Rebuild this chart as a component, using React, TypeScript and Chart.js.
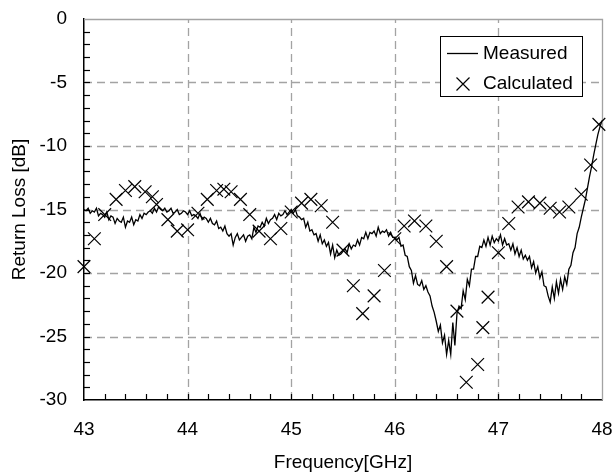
import React, { useEffect, useRef } from "react";
import { Chart, registerables } from "chart.js";

Chart.register(...registerables);

// ---- Axis ranges / ticks ----
const FREQ_MIN = 43;
const FREQ_MAX = 48;
const LOSS_MIN = -30;
const LOSS_MAX = 0;
const X_TICK_STEP = 1;
const Y_TICK_STEP = 5;
const X_MINOR_STEP = 0.2;
const Y_MINOR_STEP = 1;

// ---- Measured sweep (start/step of the frequency sweep) ----
const MEASURED_START = 43;
const MEASURED_STEP = 0.02;
const measuredLoss = [
  // 43.0
  -15.0, -15.1, -14.9, -15.3, -15.1, -15.2, -14.9, -15.5, -15.3, -15.4,
  // 43.2
  -15.6, -15.2, -15.8, -15.5, -15.6, -16.1, -15.7, -15.9, -16.0, -15.6,
  // 43.4
  -16.4, -15.9, -16.0, -15.6, -16.2, -15.8, -15.9, -15.4, -15.7, -15.3,
  // 43.6
  -15.4, -15.2, -15.1, -15.3, -14.9, -15.2, -14.8, -15.0, -15.1, -14.9,
  // 43.8
  -15.2, -15.1, -14.9, -15.3, -15.2, -15.0, -15.4, -15.3, -15.1, -15.2,
  // 44.0
  -15.4, -15.1, -15.5, -15.4, -15.5, -15.7, -15.3, -15.8, -15.6, -15.7,
  // 44.2
  -16.0, -15.7, -16.1, -16.2, -15.9, -16.5, -16.4, -16.7, -16.3, -16.9,
  // 44.4
  -17.1, -16.9, -17.8, -17.2, -16.9, -17.4, -17.2, -17.0, -17.5, -17.1,
  // 44.6
  -17.0, -17.3, -16.4, -16.8, -16.3, -16.4, -16.0, -16.3, -15.7, -16.1,
  // 44.8
  -15.8, -15.7, -15.4, -15.8, -15.3, -15.5, -15.4, -15.1, -15.4, -15.2,
  // 45.0
  -15.0, -15.3, -15.0, -15.5, -15.6, -15.8, -15.7, -16.4, -16.0, -16.7,
  // 45.2
  -16.6, -17.0, -16.9, -17.5, -17.0, -17.7, -17.4, -17.9, -17.6, -18.5,
  // 45.4
  -17.8, -18.8, -18.2, -18.6, -18.5, -18.3, -18.1, -18.4, -17.7, -18.1,
  // 45.6
  -17.8, -17.9, -17.4, -17.8, -17.2, -17.3, -16.8, -17.3, -16.8, -16.9,
  // 45.8
  -16.7, -17.1, -16.4, -16.9, -16.7, -16.8, -16.6, -17.1, -16.8, -17.2,
  // 46.0
  -17.2, -17.4, -17.2, -17.9, -17.8, -18.6, -18.7, -19.5, -19.8, -20.8,
  // 46.2
  -20.2, -20.9, -21.0, -20.6, -21.3, -21.0, -21.5, -21.8, -22.6, -23.1,
  // 46.4
  -23.8, -24.6, -24.1, -25.5, -24.9, -26.4, -25.3, -26.4, -23.9, -25.7,
  // 46.6
  -23.2, -22.6, -22.8, -21.4, -22.1, -20.5, -21.0, -19.7, -19.7, -18.7,
  // 46.8
  -18.7, -17.9, -18.0, -17.4, -17.9, -17.2, -17.8, -17.1, -17.6, -17.3,
  // 47.0
  -17.5, -17.0, -17.8, -17.3, -17.8, -17.7, -18.2, -17.7, -18.5, -18.0,
  // 47.2
  -18.7, -18.2, -18.9, -18.6, -19.0, -18.7, -19.6, -19.1, -20.0, -19.5,
  // 47.4
  -20.4, -19.9, -21.0, -21.1, -21.8, -22.3, -21.1, -22.0, -20.7, -21.6,
  // 47.6
  -20.5, -21.3, -20.3, -20.9, -19.7, -19.4, -18.4, -18.0, -16.9, -16.4,
  // 47.8
  -15.6, -14.9, -14.2, -13.3, -12.4, -11.6, -10.7, -9.9, -9.1, -8.5,
  // 48.0
  -8.0,
];

// ---- Calculated points ----
const calculatedFreq = [
  43.0, 43.1, 43.2, 43.31, 43.4, 43.49, 43.59, 43.66, 43.7, 43.81,
  43.9, 44.0, 44.1, 44.19, 44.28, 44.35, 44.42, 44.51, 44.6, 44.69,
  44.8, 44.9, 45.0, 45.1, 45.19, 45.29, 45.4, 45.5, 45.6, 45.69,
  45.8, 45.9, 46.0, 46.09, 46.19, 46.3, 46.4, 46.5, 46.6, 46.69,
  46.8, 46.85, 46.9, 47.0, 47.1, 47.19, 47.29, 47.4, 47.5, 47.59,
  47.68, 47.8, 47.89, 47.97,
];
const calculatedLoss = [
  -19.5, -17.3, -15.4, -14.2, -13.5, -13.2, -13.6, -14.0, -14.6, -15.8,
  -16.7, -16.6, -15.3, -14.2, -13.5, -13.4, -13.6, -14.2, -15.4, -16.7,
  -17.3, -16.5, -15.2, -14.5, -14.2, -14.7, -16.0, -18.2, -21.0, -23.2,
  -21.8, -19.8, -17.3, -16.3, -15.9, -16.3, -17.5, -19.5, -23.0, -28.6,
  -27.2, -24.3, -21.9, -18.4, -16.1, -14.8, -14.4, -14.5, -14.9, -15.2,
  -14.8, -13.8, -11.5, -8.3,
];

const SERIES_LABELS = ["Measured", "Calculated"];

const FONT = '"Liberation Sans", Arial, Helvetica, sans-serif';
const FONT_SIZE = 19;
const GRID_COLOR = "#a3a3a3";

const gridPlugin = {
  id: "customGrid",
  beforeDatasetsDraw(chart: any) {
    const { ctx, chartArea: a, scales } = chart;
    const x = scales.x;
    const y = scales.y;
    ctx.save();
    ctx.strokeStyle = GRID_COLOR;
    ctx.lineWidth = 1.3;
    ctx.setLineDash([8, 5]);
    x.ticks.forEach((t: any) => {
      if (t.value <= FREQ_MIN || t.value >= FREQ_MAX) return;
      const px = Math.round(x.getPixelForValue(t.value)) + 0.5;
      ctx.beginPath();
      ctx.moveTo(px, a.bottom);
      ctx.lineTo(px, a.top);
      ctx.stroke();
    });
    y.ticks.forEach((t: any) => {
      if (t.value <= LOSS_MIN || t.value >= LOSS_MAX) return;
      const py = Math.round(y.getPixelForValue(t.value)) + 0.5;
      ctx.beginPath();
      ctx.moveTo(a.left, py);
      ctx.lineTo(a.right, py);
      ctx.stroke();
    });
    ctx.setLineDash([]);
    const top = Math.round(y.getPixelForValue(LOSS_MAX)) + 0.5;
    const right = Math.round(x.getPixelForValue(FREQ_MAX)) + 0.5;
    ctx.beginPath();
    ctx.moveTo(a.left, top);
    ctx.lineTo(right, top);
    ctx.lineTo(right, a.bottom);
    ctx.stroke();
    ctx.restore();
  },
  afterDatasetsDraw(chart: any) {
    const { ctx, chartArea: a, scales } = chart;
    const x = scales.x;
    const y = scales.y;
    ctx.save();
    ctx.strokeStyle = "#000";
    ctx.lineWidth = 1.2;
    const nx = Math.round((FREQ_MAX - FREQ_MIN) / X_MINOR_STEP);
    for (let i = 1; i < nx; i++) {
      const px = Math.round(x.getPixelForValue(FREQ_MIN + i * X_MINOR_STEP)) + 0.5;
      ctx.beginPath();
      ctx.moveTo(px, a.bottom);
      ctx.lineTo(px, a.bottom - 6);
      ctx.stroke();
    }
    const ny = Math.round((LOSS_MAX - LOSS_MIN) / Y_MINOR_STEP);
    for (let i = 1; i < ny; i++) {
      const py = Math.round(y.getPixelForValue(LOSS_MIN + i * Y_MINOR_STEP)) + 0.5;
      ctx.beginPath();
      ctx.moveTo(a.left, py);
      ctx.lineTo(a.left + 6, py);
      ctx.stroke();
    }
    ctx.restore();
  },
};

const legendPlugin = {
  id: "boxLegend",
  afterDraw(chart: any) {
    const { ctx } = chart;
    const labels = chart.data.datasets.map((d: any) => d.label);
    const bx = 440.5, by = 36.5, bw = 142, bh = 60;
    ctx.save();
    ctx.fillStyle = "#fff";
    ctx.fillRect(bx, by, bw, bh);
    ctx.strokeStyle = "#000";
    ctx.lineWidth = 1;
    ctx.strokeRect(bx, by, bw, bh);
    ctx.lineWidth = 1.3;
    ctx.beginPath();
    ctx.moveTo(447, 53.5);
    ctx.lineTo(478, 53.5);
    ctx.stroke();
    const cx = 463, cy = 84, r = 6.5;
    ctx.lineWidth = 1.2;
    ctx.beginPath();
    ctx.moveTo(cx - r, cy - r);
    ctx.lineTo(cx + r, cy + r);
    ctx.moveTo(cx - r, cy + r);
    ctx.lineTo(cx + r, cy - r);
    ctx.stroke();
    ctx.fillStyle = "#000";
    ctx.font = `${FONT_SIZE}px ${FONT}`;
    ctx.textAlign = "left";
    ctx.textBaseline = "middle";
    ctx.fillText(labels[0], 483, 54);
    ctx.fillText(labels[1], 483, 84);
    ctx.restore();
  },
};

export default function App() {
  const ref = useRef<HTMLCanvasElement>(null);
  useEffect(() => {
    const measuredPoints = measuredLoss.map((v, i) => ({
      x: MEASURED_START + i * MEASURED_STEP,
      y: v,
    }));
    const calculatedPoints = calculatedFreq.map((f, i) => ({ x: f, y: calculatedLoss[i] }));
    const chart = new Chart(ref.current as HTMLCanvasElement, {
      type: "scatter",
      data: {
        datasets: [
          {
            label: SERIES_LABELS[0],
            data: measuredPoints,
            showLine: true,
            borderColor: "#000",
            borderWidth: 1.3,
            pointRadius: 0,
            tension: 0,
            fill: false,
          },
          {
            label: SERIES_LABELS[1],
            data: calculatedPoints,
            showLine: false,
            pointStyle: "crossRot",
            pointRadius: 9,
            pointBorderWidth: 1.2,
            borderColor: "#000",
            backgroundColor: "rgba(0,0,0,0)",
            clip: false,
          } as any,
        ],
      },
      options: {
        responsive: false,
        animation: false,
        events: [],
        layout: { padding: { top: 19, right: 14, left: 0, bottom: 0 } },
        plugins: { legend: { display: false }, tooltip: { enabled: false } },
        scales: {
          x: {
            type: "linear",
            min: FREQ_MIN,
            max: FREQ_MAX,
            grid: { display: false, drawTicks: false },
            border: { display: true, color: "#000", width: 1.5 },
            ticks: {
              stepSize: X_TICK_STEP,
              color: "#000",
              padding: 18,
              font: { family: FONT, size: FONT_SIZE },
              maxRotation: 0,
            },
            title: {
              display: true,
              text: "Frequency[GHz]",
              color: "#000",
              font: { family: FONT, size: FONT_SIZE },
              padding: { top: 0, bottom: 2 },
            },
            afterFit: (s: any) => {
              s.height = 76;
              s.paddingLeft = 0;
              s.paddingRight = 0;
            },
          },
          y: {
            type: "linear",
            min: LOSS_MIN,
            max: LOSS_MAX,
            grid: { display: false, drawTicks: false },
            border: { display: true, color: "#000", width: 1.5 },
            ticks: {
              stepSize: Y_TICK_STEP,
              color: "#000",
              padding: 17,
              font: { family: FONT, size: FONT_SIZE },
            },
            title: {
              display: true,
              text: "Return Loss [dB]",
              color: "#000",
              font: { family: FONT, size: FONT_SIZE },
              padding: { top: 8, bottom: 0 },
            },
            afterFit: (s: any) => {
              s.width = 84;
              s.paddingTop = 0;
              s.paddingBottom = 0;
            },
          },
        },
      } as any,
      plugins: [gridPlugin, legendPlugin],
    });
    return () => chart.destroy();
  }, []);
  return (
    <div
      style={{
        position: "fixed",
        left: 0,
        top: 0,
        width: 616,
        height: 476,
        background: "#fff",
      }}
    >
      <canvas ref={ref} width={616} height={476} style={{ display: "block" }} />
    </div>
  );
}
